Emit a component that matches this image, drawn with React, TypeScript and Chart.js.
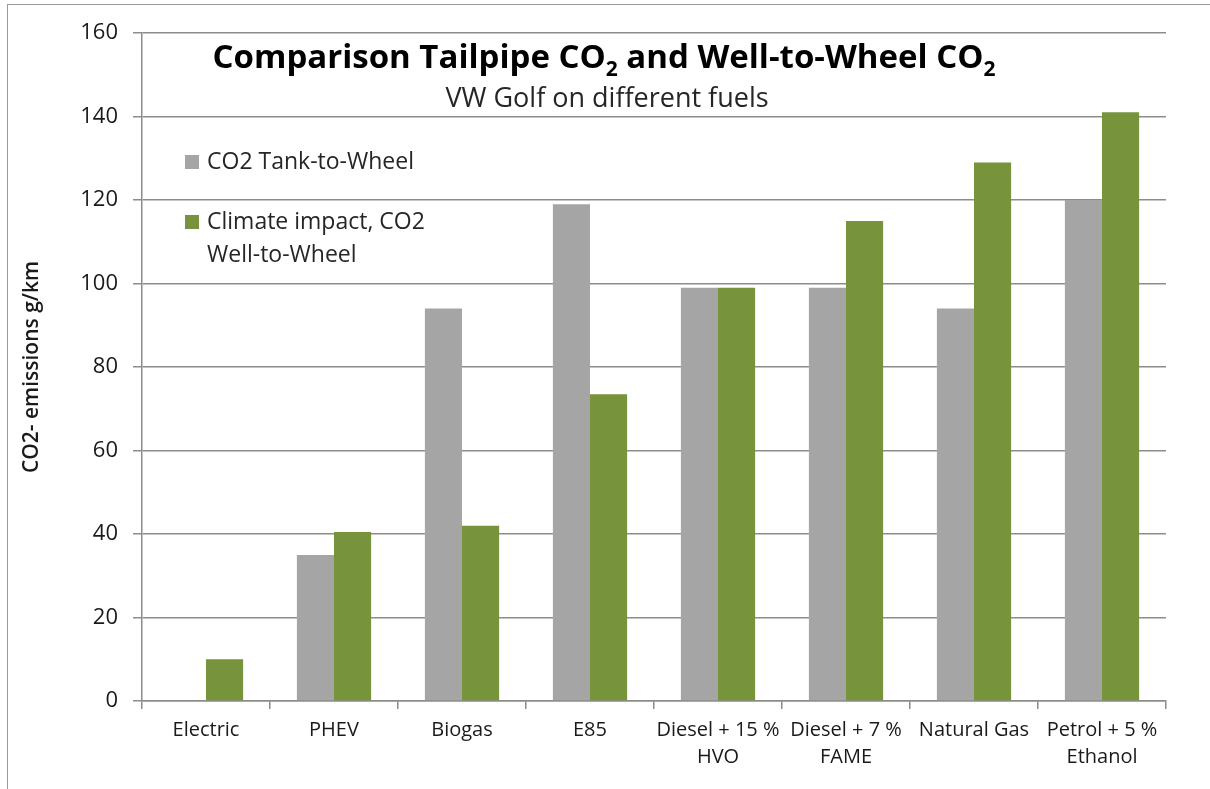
import React, { useEffect, useRef } from "react";
import { Chart, registerables } from "chart.js";

Chart.register(...registerables);

// ---- data ----
const categories: string[][] = [
  ["Electric"],
  ["PHEV"],
  ["Biogas"],
  ["E85"],
  ["Diesel + 15 %", "HVO"],
  ["Diesel + 7 %", "FAME"],
  ["Natural Gas"],
  ["Petrol + 5 %", "Ethanol"],
];
const tankToWheel: (number | null)[] = [null, 35, 94, 119, 99, 99, 94, 120];
const wellToWheel: number[] = [10, 40.5, 42, 73.5, 99, 115, 129, 141];
const seriesNames = ["CO2 Tank-to-Wheel", "Climate impact, CO2 Well-to-Wheel"];
const legendLines: string[][] = [["CO2 Tank-to-Wheel"], ["Climate impact, CO2", "Well-to-Wheel"]];
const titleSegments: [string, boolean][] = [
  ["Comparison Tailpipe CO", false],
  ["2", true],
  [" and Well-to-Wheel CO", false],
  ["2", true],
];
const subtitleText = "VW Golf on different fuels";
const yAxisTitle = "CO2- emissions g/km";
const yMin = 0;
const yMax = 160;
const yStep = 20;

// ---- style ----
const FONT = '"Open Sans", "Noto Sans", sans-serif';
const GRAY = "#a5a5a5";
const GREEN = "#77933c";
const GRID = "#8c8c8c";
const TEXT = "#1a1a1a";

const overlayPlugin = {
  id: "overlay",
  afterDraw(chart: any) {
    const ctx: CanvasRenderingContext2D = chart.ctx;
    ctx.save();
    // Title with subscripts
    const mainFont = `bold 33px ${FONT}`;
    const subFont = `bold 21px ${FONT}`;
    let total = 0;
    const widths: number[] = [];
    for (const [t, sub] of titleSegments) {
      ctx.font = sub ? subFont : mainFont;
      const w = ctx.measureText(t).width;
      widths.push(w);
      total += w;
    }
    let x = 604 - total / 2;
    const baseY = 68;
    ctx.fillStyle = "#000";
    ctx.textBaseline = "alphabetic";
    ctx.textAlign = "left";
    titleSegments.forEach(([t, sub], i) => {
      ctx.font = sub ? subFont : mainFont;
      ctx.fillText(t, x, sub ? baseY + 8 : baseY);
      x += widths[i];
    });
    // Subtitle
    ctx.font = `27px ${FONT}`;
    ctx.fillStyle = "#262626";
    ctx.textAlign = "center";
    ctx.fillText(subtitleText, 607, 107);

    // Legend
    const colors = [GRAY, GREEN];
    const rowY = [162, 222];
    ctx.font = `23px ${FONT}`;
    ctx.textAlign = "left";
    ctx.textBaseline = "middle";
    legendLines.forEach((lines, i) => {
      ctx.fillStyle = colors[i];
      ctx.fillRect(185, rowY[i] - 7, 14, 14);
      ctx.fillStyle = "#262626";
      lines.forEach((ln, j) => {
        ctx.fillText(ln, 207, rowY[i] + j * 33);
      });
    });
    ctx.restore();
  },
};

export default function App() {
  const ref = useRef<HTMLCanvasElement | null>(null);
  useEffect(() => {
    if (!ref.current) return;
    const chart = new Chart(ref.current, {
      type: "bar",
      data: {
        labels: categories as any,
        datasets: [
          {
            label: seriesNames[0],
            data: tankToWheel as any,
            backgroundColor: GRAY,
            borderWidth: 0,
          },
          {
            label: seriesNames[1],
            data: wellToWheel,
            backgroundColor: GREEN,
            borderWidth: 0,
          },
        ],
      },
      options: {
        responsive: false,
        maintainAspectRatio: false,
        animation: false,
        layout: { padding: { top: 33, right: 44, left: 0, bottom: 0 } },
        datasets: {
          bar: { categoryPercentage: 0.58, barPercentage: 1 },
        },
        plugins: {
          legend: { display: false },
          title: { display: false },
          tooltip: { enabled: false },
        },
        scales: {
          x: {
            grid: {
              drawOnChartArea: false,
              drawTicks: true,
              tickLength: 8,
              color: GRID,
              lineWidth: 1.5,
            },
            border: { color: GRID, width: 1.5 },
            ticks: {
              color: TEXT,
              font: { family: FONT, size: 20, lineHeight: 1.35 },
              padding: 8,
              maxRotation: 0,
              autoSkip: false,
            },
            afterFit(scale: any) {
              scale.height = 88;
            },
          },
          y: {
            min: yMin,
            max: yMax,
            grid: {
              color: GRID,
              lineWidth: 1.5,
              drawTicks: true,
              tickLength: 9,
            },
            border: { color: GRID, width: 1.5 },
            ticks: {
              stepSize: yStep,
              color: TEXT,
              font: { family: FONT, size: 22 },
              padding: 15,
            },
            title: {
              display: true,
              text: yAxisTitle,
              color: TEXT,
              font: { family: FONT, size: 21, weight: "600" as any },
              padding: { top: 19, bottom: 0 },
            },
            afterFit(scale: any) {
              scale.width = 142;
            },
          },
        },
      },
      plugins: [overlayPlugin],
    });
    return () => chart.destroy();
  }, []);

  return (
    <div
      style={{
        position: "fixed",
        left: 0,
        top: 0,
        width: 1210,
        height: 789,
        background: "#fff",
        overflow: "hidden",
      }}
    >
      <div
        style={{
          position: "absolute",
          left: 7,
          top: 4,
          width: 1400,
          height: 1000,
          borderLeft: "1.5px solid #9a9a9a",
          borderTop: "1.5px solid #9a9a9a",
        }}
      />
      <canvas
        ref={ref}
        width={1210}
        height={789}
        style={{ position: "absolute", left: 0, top: 0, width: 1210, height: 789 }}
      />
    </div>
  );
}
